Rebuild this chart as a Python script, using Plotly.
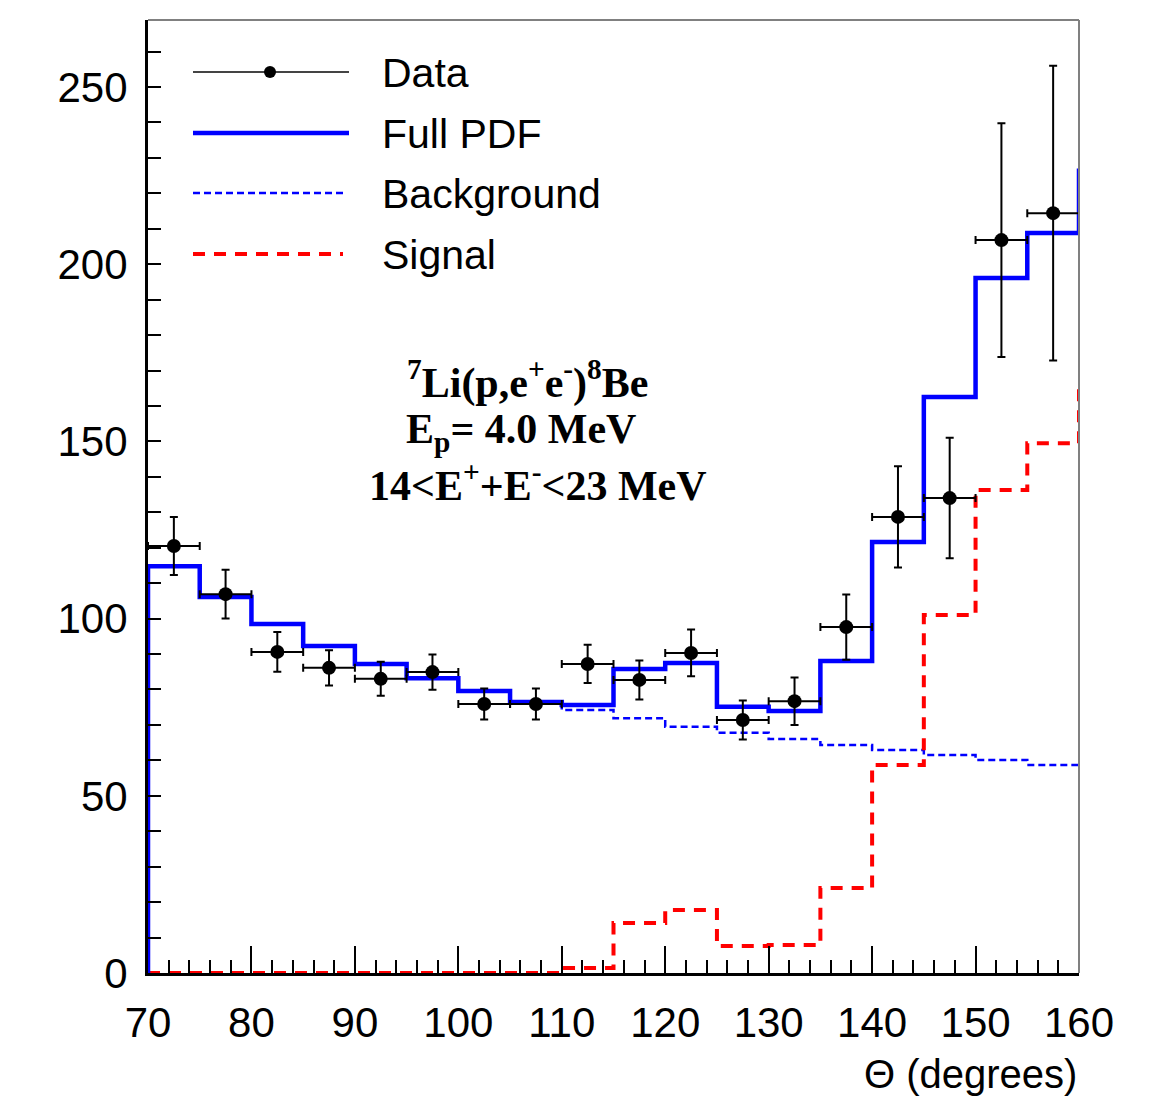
import numpy as np
import plotly.graph_objects as go

# ---- data ----
bin_edges = [70, 75, 80, 85, 90, 95, 100, 105, 110, 115, 120, 125, 130, 135, 140, 145, 150, 155, 160]
bin_centers = [72.5, 77.5, 82.5, 87.5, 92.5, 97.5, 102.5, 107.5, 112.5, 117.5,
               122.5, 127.5, 132.5, 137.5, 142.5, 147.5, 152.5, 157.5]
data_y = [120.5, 106.9, 90.6, 86.1, 83.0, 84.9, 75.9, 75.9, 87.2, 82.7,
          90.3, 71.4, 76.7, 97.6, 128.7, 134.0, 206.8, 214.4]
data_err = [8.2, 6.9, 5.6, 5.0, 4.8, 5.0, 4.4, 4.4, 5.4, 5.5,
            6.6, 5.5, 6.7, 9.2, 14.3, 17.0, 33.0, 41.6]
bin_half = [2.5] * 18
full_pdf = [114.8, 106.1, 98.5, 92.3, 87.2, 83.2, 79.6, 76.5, 75.6, 85.8,
            87.5, 75.1, 73.9, 88.0, 121.6, 162.5, 196.1, 208.8]
full_tail = 227.0
background = [114.8, 106.1, 98.5, 92.3, 87.2, 83.2, 79.6, 76.5, 74.2, 71.9,
              69.5, 67.8, 66.0, 64.3, 62.9, 61.5, 60.1, 58.7]
bkg_tail = 58.5
signal = [0, 0, 0, 0, 0, 0, 0, 0, 1.4, 14.1,
          17.8, 7.6, 7.9, 24.0, 58.7, 101.0, 136.3, 149.5]
sig_tail = 167.0

x_ticks = [70, 80, 90, 100, 110, 120, 130, 140, 150, 160]
y_ticks = [0, 50, 100, 150, 200, 250]


def step_xy(vals, tail):
    xs = [bin_edges[0]] + bin_edges[:-1] + [bin_edges[-1], bin_edges[-1]]
    ys = [0] + list(vals) + [vals[-1], tail]
    return xs, ys


fig = go.Figure()

bx, by = step_xy(background, bkg_tail)
fig.add_trace(go.Scatter(x=bx, y=by, mode="lines", line_shape="hv",
                         line=dict(color="#0000ff", width=2.5, dash="7px,4px"),
                         showlegend=False))
sx, sy = step_xy(signal, sig_tail)
fig.add_trace(go.Scatter(x=sx, y=sy, mode="lines", line_shape="hv",
                         line=dict(color="#ff0000", width=4, dash="12px,9px"),
                         showlegend=False))
fx, fy = step_xy(full_pdf, full_tail)
fig.add_trace(go.Scatter(x=fx, y=fy, mode="lines", line_shape="hv",
                         line=dict(color="#0000ff", width=4.5),
                         showlegend=False))
fig.add_trace(go.Scatter(x=bin_centers, y=data_y, mode="markers",
                         marker=dict(color="black", size=14),
                         error_y=dict(type="data", array=data_err, color="black", thickness=2, width=4),
                         error_x=dict(type="data", array=bin_half, color="black", thickness=2, width=4),
                         showlegend=False))

# ---- layout geometry (body margin removed below) ----
L, R, T, B = 148, 1079, 20, 973
W, H = 1167, 1096


def px(xp):
    return (xp - L) / (R - L)


def py(yp):
    return (B - yp) / (B - T)


shapes = []
annotations = []
# frame top/right in gray
shapes.append(dict(type="line", xref="paper", yref="paper", x0=0, x1=1, y0=1, y1=1,
                   line=dict(color="#808080", width=2)))
shapes.append(dict(type="line", xref="paper", yref="paper", x0=1, x1=1, y0=0, y1=1,
                   line=dict(color="#808080", width=2)))

# manual legend
leg_font = dict(family="Liberation Sans, Arial, sans-serif", size=41, color="black")
legend_rows = [
    ("Data", 72, dict(color="#444444", width=2), 349),
    ("Full PDF", 133, dict(color="#0000ff", width=4.5), 349),
    ("Background", 193, dict(color="#0000ff", width=2.5, dash="7px,4px"), 343),
    ("Signal", 254, dict(color="#ff0000", width=4, dash="12px,9px"), 343),
]
for label, yy, ln, xend in legend_rows:
    shapes.append(dict(type="line", xref="paper", yref="paper",
                       x0=px(193), x1=px(xend), y0=py(yy), y1=py(yy), line=ln))
    annotations.append(dict(text=label, xref="paper", yref="paper", x=px(380), y=py(yy + 1),
                            xanchor="left", yanchor="middle", showarrow=False, font=leg_font))
shapes.append(dict(type="circle", xref="paper", yref="paper",
                   x0=px(264), x1=px(276), y0=py(78), y1=py(66),
                   fillcolor="black", line=dict(color="black", width=0)))

# reaction text
tfont = dict(family="Liberation Serif, Times New Roman, serif", size=42, color="black")
annotations.append(dict(text="<b><sup>7</sup>Li(p,e<sup>+</sup>e<sup>-</sup>)<sup>8</sup>Be</b>",
                        xref="paper", yref="paper", x=px(527), y=py(380),
                        xanchor="center", yanchor="middle", showarrow=False, font=tfont))
annotations.append(dict(text="<b>E<sub>p</sub>= 4.0 MeV</b>",
                        xref="paper", yref="paper", x=px(521), y=py(432),
                        xanchor="center", yanchor="middle", showarrow=False, font=tfont))
annotations.append(dict(text="<b>14&lt;E<sup>+</sup>+E<sup>-</sup>&lt;23 MeV</b>",
                        xref="paper", yref="paper", x=px(538), y=py(482),
                        xanchor="center", yanchor="middle", showarrow=False, font=tfont))
# x title
annotations.append(dict(text="Θ (degrees)", xref="paper", yref="paper", x=1, y=py(1074),
                        xanchor="right", yanchor="middle", showarrow=False,
                        font=dict(family="Liberation Sans, Arial, sans-serif", size=40, color="black")))

tick_font = dict(family="Liberation Sans, Arial, sans-serif", size=42, color="black")
fig.update_layout(
    width=W, height=H,
    margin=dict(l=L, r=W - R, t=T, b=H - B, pad=0),
    plot_bgcolor="white", paper_bgcolor="white",
    showlegend=False,
    shapes=shapes, annotations=annotations,
    xaxis=dict(range=[70, 160], tickvals=x_ticks, ticktext=[str(v) for v in x_ticks],
               ticks="inside", ticklen=27, tickwidth=2, tickcolor="black",
               minor=dict(dtick=2, ticklen=13, tickwidth=2, tickcolor="black", ticks="inside", showgrid=False),
               showline=True, linecolor="black", linewidth=3, showgrid=False, zeroline=False,
               tickfont=tick_font, ticklabelstandoff=11),
    yaxis=dict(range=[0, 268.9], tickvals=y_ticks, ticktext=[str(v) for v in y_ticks],
               ticks="inside", ticklen=13, tickwidth=2, tickcolor="black",
               minor=dict(dtick=10, ticklen=13, tickwidth=2, tickcolor="black", ticks="inside", showgrid=False),
               showline=True, linecolor="black", linewidth=3, showgrid=False, zeroline=False,
               tickfont=tick_font, ticklabelstandoff=9),
)

fig.write_html("out.html", config={"displayModeBar": False},
               post_script="document.body.style.margin='0';document.body.style.overflow='hidden';")
